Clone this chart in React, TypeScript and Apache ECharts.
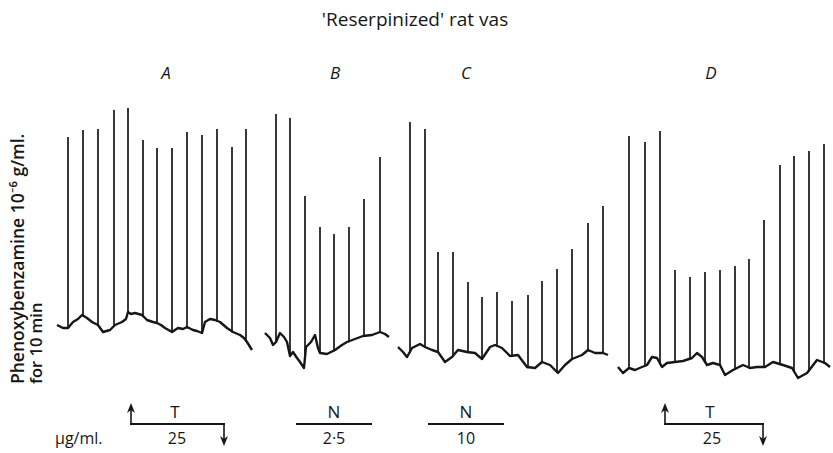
import React, { useEffect, useRef } from "react";
import * as echarts from "echarts";

// Time axis (arbitrary chart units) and contraction height (units above record floor)
const traceA_t = [57, 63, 68, 73, 78, 82, 87, 92, 98, 103, 110, 115, 122, 126, 128, 131, 135, 142, 147, 153, 157, 161, 165, 172, 178, 183, 187, 193, 197, 202, 205, 210, 215, 220, 227, 233, 240, 244, 247, 252];
const traceA_v = [128, 125, 125, 131, 134, 138, 135, 131, 128, 121, 123, 128, 131, 134, 141, 139, 140, 138, 133, 131, 130, 128, 125, 121, 125, 124, 126, 123, 122, 120, 131, 134, 133, 131, 125, 121, 118, 115, 111, 103];
const spikeA_t = [68, 83, 98, 114, 128, 143, 157, 172, 187, 202, 217, 232, 246];
const spikeA_peak = [316, 323, 324, 343, 345, 313, 305, 305, 321, 318, 324, 306, 324];

const traceB_t = [265, 270, 273, 276, 280, 284, 287, 290, 293, 297, 300, 304, 306, 311, 315, 318, 320, 327, 335, 342, 347, 355, 363, 372, 380, 385, 389];
const traceB_v = [120, 115, 108, 111, 120, 116, 111, 97, 101, 95, 91, 85, 106, 111, 118, 105, 100, 99, 103, 108, 111, 114, 117, 118, 121, 119, 116];
const spikeB_t = [276, 290, 305, 320, 334, 349, 364, 380];
const spikeB_peak = [339, 335, 257, 226, 219, 226, 254, 296];

const traceC_t = [398, 403, 407, 412, 420, 425, 432, 438, 445, 452, 458, 467, 475, 482, 490, 495, 502, 510, 518, 527, 535, 542, 550, 558, 565, 572, 582, 588, 595, 603, 608];
const traceC_v = [106, 101, 96, 105, 109, 106, 103, 101, 91, 96, 103, 101, 100, 94, 106, 108, 105, 97, 98, 86, 85, 91, 88, 80, 88, 94, 98, 103, 100, 100, 98];
const spikeC_t = [410, 425, 438, 453, 468, 482, 497, 512, 528, 542, 557, 572, 588, 603];
const spikeC_peak = [331, 324, 201, 201, 171, 156, 161, 152, 158, 172, 184, 204, 230, 247];

const traceD_t = [618, 623, 629, 635, 642, 647, 652, 657, 662, 667, 675, 683, 692, 697, 702, 707, 713, 720, 725, 733, 743, 750, 757, 765, 773, 783, 792, 798, 807, 817, 825, 830];
const traceD_v = [86, 80, 85, 83, 86, 88, 96, 95, 86, 90, 91, 92, 95, 100, 96, 88, 90, 88, 78, 83, 88, 85, 86, 86, 91, 88, 85, 75, 80, 93, 90, 86];
const spikeD_t = [629, 645, 660, 675, 690, 705, 720, 735, 749, 764, 780, 794, 809, 824];
const spikeD_peak = [317, 311, 322, 183, 176, 181, 183, 187, 194, 233, 288, 297, 302, 309];

const panelLabels = ["A", "B", "C", "D"];
const drugLabels = ["T", "N", "N", "T"];
const doseLabels = ["25", "2·5", "10", "25"];

const INK = "#161616";
const FONT = "'Open Sans', Lato, sans-serif";

function baseAt(ts: number[], vs: number[], t: number): number {
  for (let i = 0; i < ts.length - 1; i++) {
    if (t >= ts[i] && t <= ts[i + 1]) {
      const f = (t - ts[i]) / (ts[i + 1] - ts[i] || 1);
      return vs[i] + f * (vs[i + 1] - vs[i]);
    }
  }
  return t < ts[0] ? vs[0] : vs[vs.length - 1];
}

export default function App() {
  const ref = useRef<HTMLDivElement>(null);
  useEffect(() => {
    if (!ref.current) return;
    const chart = echarts.init(ref.current, undefined, { renderer: "svg" });
    const panels = [
      [traceA_t, traceA_v, spikeA_t, spikeA_peak],
      [traceB_t, traceB_v, spikeB_t, spikeB_peak],
      [traceC_t, traceC_v, spikeC_t, spikeC_peak],
      [traceD_t, traceD_v, spikeD_t, spikeD_peak],
    ];
    const series: any[] = [];
    panels.forEach(([tt, tv, st, sp], i) => {
      series.push({
        type: "line",
        name: "trace" + panelLabels[i],
        data: tt.map((t, k) => [t, tv[k]]),
        showSymbol: false,
        lineStyle: { color: INK, width: 2.4, join: "round" },
        silent: true,
        z: 3,
      });
      series.push({
        type: "custom",
        name: "spikes" + panelLabels[i],
        data: st.map((t, k) => [t, baseAt(tt, tv, t), sp[k]]),
        renderItem: (params: any, api: any) => {
          const a = api.coord([api.value(0), api.value(1)]);
          const b = api.coord([api.value(0), api.value(2)]);
          return {
            type: "line",
            shape: { x1: a[0], y1: a[1] + 1, x2: b[0], y2: b[1] },
            style: { stroke: INK, lineWidth: 1.7 },
          };
        },
        silent: true,
        z: 2,
      });
    });

    const txt = (x: number, y: number, text: string, size: number, extra: any = {}) => ({
      type: "text",
      x,
      y,
      style: {
        text,
        fill: INK,
        font: `${extra.italic ? "italic " : ""}${extra.weight || 400} ${size}px ${FONT}`,
        align: extra.align || "center",
        verticalAlign: "middle",
      },
      rotation: extra.rotation || 0,
    });
    const ln = (x1: number, y1: number, x2: number, y2: number, w = 2) => ({
      type: "line",
      shape: { x1, y1, x2, y2 },
      style: { stroke: INK, lineWidth: w },
    });
    const head = (x: number, y: number, up: boolean) => ({
      type: "polygon",
      shape: {
        points: up
          ? [[x, y], [x - 4, y + 10], [x, y + 7], [x + 4, y + 10]]
          : [[x, y], [x - 4, y - 10], [x, y - 7], [x + 4, y - 10]],
      },
      style: { fill: INK },
    });

    const lettersX = [166, 335, 466, 711];
    const graphic: any[] = [
      txt(415, 19, "'Reserpinized' rat vas", 19),
      ...panelLabels.map((l, i) => txt(lettersX[i], 72, l, 17, { italic: true, weight: 500 })),
      txt(17, 384, "Phenoxybenzamine 10⁻⁶ g/ml.", 17.5, { align: "left", rotation: Math.PI / 2, weight: 600 }),
      txt(35, 384, "for 10 min", 16.5, { align: "left", rotation: Math.PI / 2, weight: 600 }),
      txt(55, 438, "μg/ml.", 16, { align: "left" }),
      // A: T 25
      ln(131, 406, 131, 424, 1.6),
      head(131, 403, true),
      ln(130, 424, 225, 424, 2.2),
      ln(224, 424, 224, 442, 1.6),
      head(224, 446, false),
      txt(175, 411, drugLabels[0], 17),
      txt(177, 438, doseLabels[0], 16),
      // B: N 2.5
      ln(296, 424, 372, 424, 2.2),
      txt(334, 411, drugLabels[1], 17),
      txt(334, 438, doseLabels[1], 16),
      // C: N 10
      ln(428, 424, 504, 424, 2.2),
      txt(466, 411, drugLabels[2], 17),
      txt(466, 438, doseLabels[2], 16),
      // D: T 25
      ln(665, 406, 665, 424, 1.6),
      head(665, 403, true),
      ln(664, 424, 764, 424, 2.2),
      ln(763, 424, 763, 442, 1.6),
      head(763, 446, false),
      txt(710, 411, drugLabels[3], 17),
      txt(712, 438, doseLabels[3], 16),
    ];

    chart.setOption({
      animation: false,
      backgroundColor: "#ffffff",
      grid: { left: 0, right: 0, top: 0, bottom: 0 },
      xAxis: { type: "value", min: 0, max: 833, show: false },
      yAxis: { type: "value", min: 0, max: 453, show: false },
      series,
      graphic,
    });
    return () => chart.dispose();
  }, []);
  return (
    <div
      ref={ref}
      style={{ position: "fixed", left: 0, top: 0, width: 833, height: 453, background: "#fff" }}
    />
  );
}
